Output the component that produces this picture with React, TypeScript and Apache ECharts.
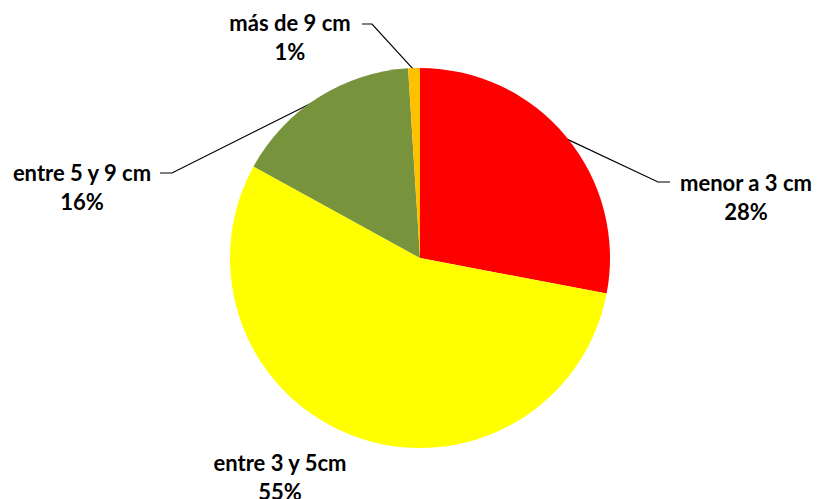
import React, { useEffect, useRef } from "react";
import * as echarts from "echarts";

const categories = ["menor a 3 cm", "entre 3 y 5cm", "entre 5 y 9 cm", "más de 9 cm"];
const values = [28, 55, 16, 1];
const colors = ["#FF0000", "#FFFF00", "#77933C", "#FFC000"];
// label block centers and knee points of the leader lines
const labelCenters: [number, number][] = [[746, 197], [280, 477], [82, 187], [290, 37]];
const labelKnees: ([number, number][] | null)[] = [
  [[658, 182], [670, 182]],
  null,
  [[172, 173], [160, 173]],
  [[372, 24], [362, 24]],
];

const CX = 420;
const CY = 258;
const R = 190;

export default function App() {
  const ref = useRef<HTMLDivElement>(null);
  useEffect(() => {
    document.body.style.margin = "0";
    if (!ref.current) return;
    const chart = echarts.init(ref.current, null, { renderer: "svg" });
    const total = values.reduce((a, b) => a + b, 0);
    const mids: number[] = [];
    let acc = 0;
    values.forEach((v) => {
      mids.push(((acc + v / 2) / total) * Math.PI * 2);
      acc += v;
    });
    chart.setOption({
      animation: false,
      backgroundColor: "#ffffff",
      series: [
        {
          type: "pie",
          center: [CX, CY],
          radius: R,
          startAngle: 90,
          clockwise: true,
          data: categories.map((c, i) => ({
            name: c,
            value: values[i],
            itemStyle: { color: colors[i] },
            labelLine: { show: labelKnees[i] !== null },
          })),
          itemStyle: { borderWidth: 0 },
          label: {
            show: true,
            position: "outside",
            formatter: (p: any) => `${p.name}\n${Math.round(p.percent)}%`,
            fontFamily: "Lato",
            fontWeight: "bold",
            fontSize: 22,
            lineHeight: 29,
            color: "#000000",
            align: "center",
          },
          labelLine: {
            show: true,
            lineStyle: { color: "#000000", width: 1.2 },
          },
          labelLayout: (params: any) => {
            const i = params.dataIndex;
            const [x, y] = labelCenters[i];
            const knees = labelKnees[i];
            const res: any = { x, y, align: "center", verticalAlign: "middle" };
            if (knees) {
              const a = mids[i];
              const edge: [number, number] = [CX + (R - 2) * Math.sin(a), CY - (R - 2) * Math.cos(a)];
              res.labelLinePoints = [edge, knees[0], knees[1]];
            }
            return res;
          },
        },
      ],
    });
    return () => chart.dispose();
  }, []);
  return <div ref={ref} style={{ width: 817, height: 499 }} />;
}
